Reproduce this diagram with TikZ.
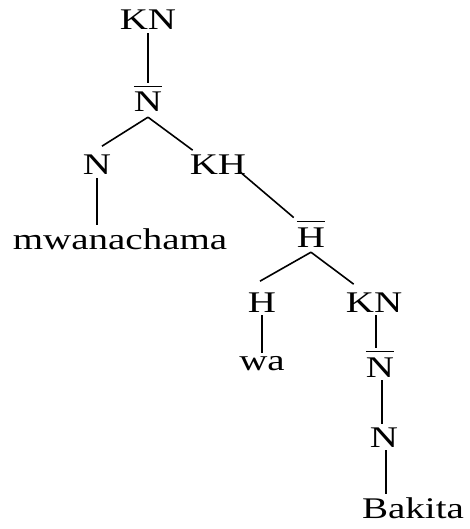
\documentclass[tikz,border=0pt]{standalone}
\usepackage{fontspec}
\setmainfont[FakeStretch=1.3]{Liberation Serif}
\newcommand\ovl[1]{\setbox0\hbox{#1}\vbox{\hrule width \wd0 height 1.6pt\kern 5pt\box0}}
\begin{document}
\begin{tikzpicture}[x=1pt,y=-1pt,
  lbl/.style={font=\fontsize{30}{35}\selectfont, inner xsep=0pt, inner ysep=3pt, anchor=base},
  edge/.style={line width=1.6pt}]
\useasboundingbox (0,0) rectangle (469,529);
\node[lbl] (kn1) at (148,30) {KN};
\node[lbl] (nb1) at (148,112) {\ovl{N}};
\node[lbl] (n2) at (97,175) {N};
\node[lbl] (kh) at (218,175) {KH};
\node[lbl] (mw) at (120,249) {mwanachama};
\node[lbl] (hb) at (311,247) {\ovl{H}};
\node[lbl] (h) at (262,312) {H};
\node[lbl] (kn2) at (374,312) {KN};
\node[lbl] (wa) at (262,370) {wa};
\node[lbl] (nb2) at (380,377) {\ovl{N}};
\node[lbl] (n4) at (384,447) {N};
\node[lbl] (bk) at (413,518) {Bakita};
\draw[edge] (kn1.south) -- (nb1.north);
\draw[edge] ([yshift=-2pt]nb1.south) -- ([xshift=5pt,yshift=6pt]n2.north);
\draw[edge] ([yshift=-2pt]nb1.south) -- ([xshift=3pt,yshift=2pt]kh.north west);
\draw[edge] (n2.south) -- (n2.south |- mw.north);
\draw[edge] ([xshift=-6pt,yshift=6pt]kh.south east) -- ([xshift=-3pt]hb.north west);
\draw[edge] ([yshift=-2pt]hb.south) -- ([xshift=-2pt,yshift=8pt]h.north);
\draw[edge] ([yshift=-2pt]hb.south) -- ([xshift=8pt,yshift=5pt]kn2.north west);
\draw[edge] (h.south) -- (h.south |- wa.north);
\draw[edge] ([xshift=2pt]kn2.south) -- ([xshift=2pt]kn2.south |- nb2.north);
\draw[edge] ([xshift=2pt]nb2.south) -- ([xshift=2pt]nb2.south |- n4.north);
\draw[edge] ([xshift=2pt]n4.south) -- ([xshift=2pt]n4.south |- bk.north);
\end{tikzpicture}
\end{document}
